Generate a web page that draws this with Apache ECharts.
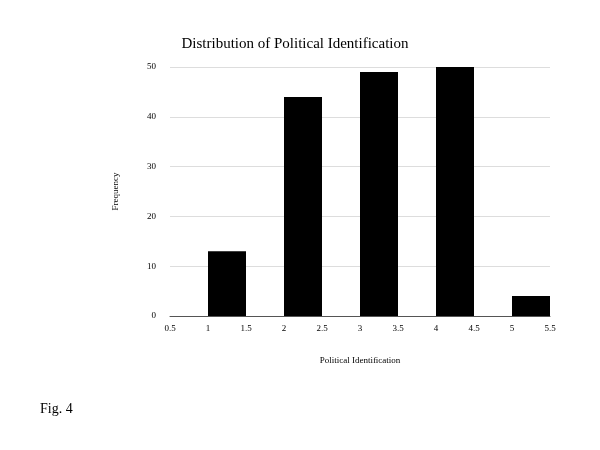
<!DOCTYPE html>
<html>
<head>
<meta charset="utf-8">
<script src="https://cdn.jsdelivr.net/npm/echarts@6/dist/echarts.min.js"></script>
<style>html,body{margin:0;background:#fff}#main{width:600px;height:450px}</style>
</head>
<body>
<div id="main"></div>
<script>
var binStarts = [1, 2, 3, 4, 5];
var binEnds = [1.5, 2.5, 3.5, 4.5, 5.5];
var counts = [13, 44, 49, 50, 4];

var chart = echarts.init(document.getElementById('main'));
var data = [];
for (var i = 0; i < counts.length; i++) {
    data.push([binStarts[i], binEnds[i], counts[i]]);
}
var serif = 'Liberation Serif';
var option = {
    animation: false,
    title: {
        text: 'Distribution of Political Identification',
        left: 290, top: 32, textAlign: 'center',
        textStyle: { fontFamily: serif, fontSize: 15, fontWeight: 'normal', color: '#000' }
    },
    graphic: [
        { type: 'text', left: 40, top: 402, style: { text: 'Fig. 4', font: '14px "Liberation Serif"', fill: '#000' } }
    ],
    grid: { left: 170, right: 50, top: 67, bottom: 134 },
    xAxis: {
        type: 'value', min: 0.5, max: 5.5, interval: 0.5,
        name: 'Political Identification', nameLocation: 'middle', nameGap: 40,
        nameTextStyle: { fontFamily: serif, fontSize: 9, color: '#000' },
        axisLine: { show: true, lineStyle: { color: '#555' } },
        axisTick: { show: false },
        splitLine: { show: false },
        axisLabel: { fontFamily: serif, fontSize: 9, color: '#000' }
    },
    yAxis: {
        type: 'value', min: 0, max: 50, interval: 10,
        name: 'Frequency', nameLocation: 'middle', nameGap: 50,
        nameTextStyle: { fontFamily: serif, fontSize: 9, color: '#000' },
        axisLine: { show: false }, axisTick: { show: false },
        splitLine: { lineStyle: { color: '#ddd' } },
        axisLabel: { fontFamily: serif, fontSize: 9, color: '#000', margin: 14 }
    },
    series: [{
        type: 'custom',
        data: data,
        encode: { x: [0, 1], y: 2 },
        renderItem: function (params, api) {
            var p0 = api.coord([api.value(0), api.value(2)]);
            var p1 = api.coord([api.value(1), 0]);
            return {
                type: 'rect',
                shape: { x: p0[0], y: p0[1], width: p1[0] - p0[0], height: p1[1] - p0[1] },
                style: { fill: '#000' }
            };
        }
    }]
};
chart.setOption(option);
</script>
</body>
</html>
